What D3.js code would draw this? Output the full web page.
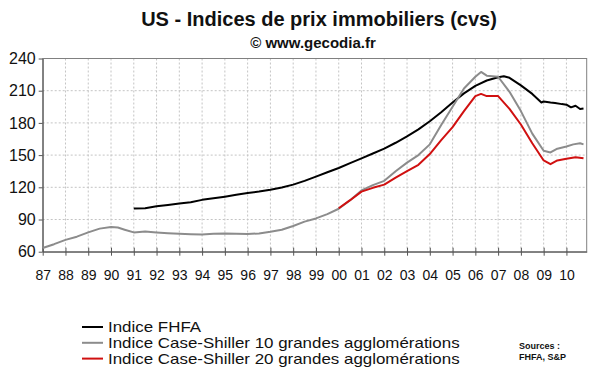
<!DOCTYPE html>
<html>
<head>
<meta charset="utf-8">
<script src="https://cdn.jsdelivr.net/npm/d3@7"></script>
<style>
  body { margin: 0; background: #fff; }
  text { font-family: "Liberation Sans", Arial, sans-serif; }
</style>
</head>
<body>
<div id="chart"></div>
<script>
'use strict';

// decimal years and index values
const fhfa = [
    [1991.0, 100.3], [1991.5, 100.5], [1992.0, 102.3], [1992.5, 103.5], [1993.0, 104.8],
    [1993.5, 106], [1994.0, 108.3], [1994.5, 109.8], [1995.0, 111.3], [1995.5, 113],
    [1996.0, 114.6], [1996.5, 116], [1997.0, 117.7], [1997.5, 119.8], [1998.0, 122.5],
    [1998.5, 126], [1999.0, 130], [1999.5, 134], [2000.0, 138], [2000.5, 142.5],
    [2001.0, 147], [2001.5, 151.5], [2002.0, 156], [2002.5, 161.5], [2003.0, 167.5],
    [2003.5, 174], [2004.0, 181.5], [2004.5, 190], [2005.0, 199], [2005.5, 207.5],
    [2006.0, 214.5], [2006.5, 219.5], [2007.0, 222.5], [2007.25, 223.5], [2007.5, 222],
    [2008.0, 215], [2008.5, 207], [2008.9, 199], [2009.0, 200], [2009.3, 199],
    [2009.5, 198.5], [2009.8, 197.5], [2010.0, 197], [2010.2, 194.5], [2010.4, 196],
    [2010.6, 193], [2010.75, 193.5]
];

const caseShiller10 = [
    [1987.0, 63.5], [1987.5, 67], [1988.0, 71], [1988.5, 74], [1989.0, 78],
    [1989.5, 81.5], [1990.0, 83], [1990.3, 82.5], [1990.6, 80.5], [1991.0, 78],
    [1991.5, 78.8], [1992.0, 78], [1992.5, 77.3], [1993.0, 76.8], [1993.5, 76.3],
    [1994.0, 76], [1994.5, 76.8], [1995.0, 77], [1995.5, 76.8], [1996.0, 76.5],
    [1996.5, 77], [1997.0, 78.5], [1997.5, 80.5], [1998.0, 84], [1998.5, 88],
    [1999.0, 91], [1999.5, 95], [2000.0, 100], [2000.5, 108], [2001.0, 117],
    [2001.5, 122], [2002.0, 126], [2002.5, 135], [2003.0, 143], [2003.5, 150],
    [2004.0, 160], [2004.5, 178], [2005.0, 195], [2005.5, 212], [2006.0, 223],
    [2006.25, 227.5], [2006.5, 224], [2007.0, 223], [2007.5, 209], [2008.0, 191],
    [2008.5, 170], [2009.0, 154], [2009.3, 152.5], [2009.6, 156], [2010.0, 158],
    [2010.3, 160], [2010.6, 161], [2010.75, 160]
];

const caseShiller20 = [
    [2000.0, 100.5], [2000.5, 108], [2001.0, 116], [2001.5, 119.5], [2002.0, 122.5],
    [2002.5, 129], [2003.0, 135], [2003.5, 141], [2004.0, 151], [2004.5, 164],
    [2005.0, 176], [2005.5, 191], [2006.0, 205], [2006.25, 207], [2006.5, 205],
    [2007.0, 205], [2007.5, 193], [2008.0, 178.5], [2008.5, 161], [2009.0, 145],
    [2009.3, 141.5], [2009.6, 145], [2010.0, 146.5], [2010.4, 148], [2010.75, 147]
];

const yearTicks = d3.range(1987, 2011);
const valueTicks = [60, 90, 120, 150, 180, 210, 240];

const seriesNames = [
    'Indice FHFA',
    'Indice Case-Shiller 10 grandes agglomérations',
    'Indice Case-Shiller 20 grandes agglomérations'
];
const seriesColours = ['#000000', '#8c8c8c', '#d01010'];

const width = 600;
const height = 372;
const margin = { top: 58.5, right: 13.3, bottom: 120.3, left: 42.7 };
const chartWidth = width - margin.left - margin.right;
const chartHeight = height - margin.top - margin.bottom;

const svg = d3.select('#chart')
    .append('svg')
    .attr('width', width)
    .attr('height', height);

const chart = svg.append('g')
    .attr('transform', `translate(${margin.left},${margin.top})`);

const xScale = d3.scaleLinear()
    .domain([1987, 2010.89])
    .range([0, chartWidth]);

const yScale = d3.scaleLinear()
    .domain([60, 240])
    .range([chartHeight, 0]);

// dotted grid
chart.append('g')
    .selectAll('line')
    .data(yearTicks.slice(1))
    .join('line')
    .attr('x1', d => xScale(d))
    .attr('x2', d => xScale(d))
    .attr('y1', 0)
    .attr('y2', chartHeight)
    .attr('stroke', '#c4c4c4')
    .attr('stroke-dasharray', '2,2');

chart.append('g')
    .selectAll('line')
    .data(valueTicks.slice(1, -1))
    .join('line')
    .attr('x1', 0)
    .attr('x2', chartWidth)
    .attr('y1', d => yScale(d))
    .attr('y2', d => yScale(d))
    .attr('stroke', '#c4c4c4')
    .attr('stroke-dasharray', '2,2');

// frame
chart.append('rect')
    .attr('x', 0)
    .attr('y', 0)
    .attr('width', chartWidth)
    .attr('height', chartHeight)
    .attr('fill', 'none')
    .attr('stroke', '#808080');

const xAxis = d3.axisBottom(xScale)
    .tickValues(yearTicks)
    .tickSizeInner(4)
    .tickSizeOuter(0)
    .tickPadding(14)
    .tickFormat(d => String(d % 100).padStart(2, '0'));

const xAxisG = chart.append('g')
    .attr('transform', `translate(0,${chartHeight})`)
    .call(xAxis);
xAxisG.select('.domain').attr('stroke', '#555');
xAxisG.selectAll('.tick line')
    .attr('y1', -4)
    .attr('stroke', '#555');
xAxisG.selectAll('.tick text')
    .attr('font-size', 14)
    .attr('font-family', '"Liberation Sans", Arial, sans-serif')
    .attr('fill', '#111');

const yAxis = d3.axisLeft(yScale)
    .tickValues(valueTicks)
    .tickSizeInner(4)
    .tickSizeOuter(0)
    .tickPadding(3);

const yAxisG = chart.append('g')
    .call(yAxis);
yAxisG.select('.domain').attr('stroke', '#555');
yAxisG.selectAll('.tick line').attr('stroke', '#555');
yAxisG.selectAll('.tick text')
    .attr('font-size', 16)
    .attr('font-family', '"Liberation Sans", Arial, sans-serif')
    .attr('fill', '#111');

const line = d3.line()
    .x(d => xScale(d[0]))
    .y(d => yScale(d[1]));

[fhfa, caseShiller10, caseShiller20].forEach(function (series, i) {
    chart.append('path')
        .datum(series)
        .attr('fill', 'none')
        .attr('stroke', seriesColours[i])
        .attr('stroke-width', 2)
        .attr('stroke-linejoin', 'round')
        .attr('d', line);
});

// titles
svg.append('text')
    .attr('x', 319)
    .attr('y', 26)
    .attr('text-anchor', 'middle')
    .attr('font-size', 20)
    .attr('font-weight', 700)
    .attr('fill', '#111')
    .text('US - Indices de prix immobiliers (cvs)');

svg.append('text')
    .attr('x', 313)
    .attr('y', 48)
    .attr('text-anchor', 'middle')
    .attr('font-size', 15)
    .attr('font-weight', 700)
    .attr('fill', '#111')
    .text('© www.gecodia.fr');

// legend: text is a bit stretched sideways in the original
const legend = svg.append('g');
seriesNames.forEach(function (name, i) {
    const y = 327 + i * 15.8;
    legend.append('line')
        .attr('x1', 82)
        .attr('x2', 103)
        .attr('y1', y)
        .attr('y2', y)
        .attr('stroke', seriesColours[i])
        .attr('stroke-width', 2);
    legend.append('text')
        .attr('transform', `translate(108,${y + 5}) scale(1.21,1)`)
        .attr('font-size', 14)
        .attr('fill', '#111')
        .text(name);
});

svg.append('text')
    .attr('x', 519)
    .attr('y', 349)
    .attr('font-size', 9)
    .attr('font-weight', 700)
    .attr('fill', '#111')
    .text('Sources :');

svg.append('text')
    .attr('x', 519)
    .attr('y', 360)
    .attr('font-size', 9)
    .attr('font-weight', 700)
    .attr('fill', '#111')
    .text('FHFA, S&P');
</script>
</body>
</html>
